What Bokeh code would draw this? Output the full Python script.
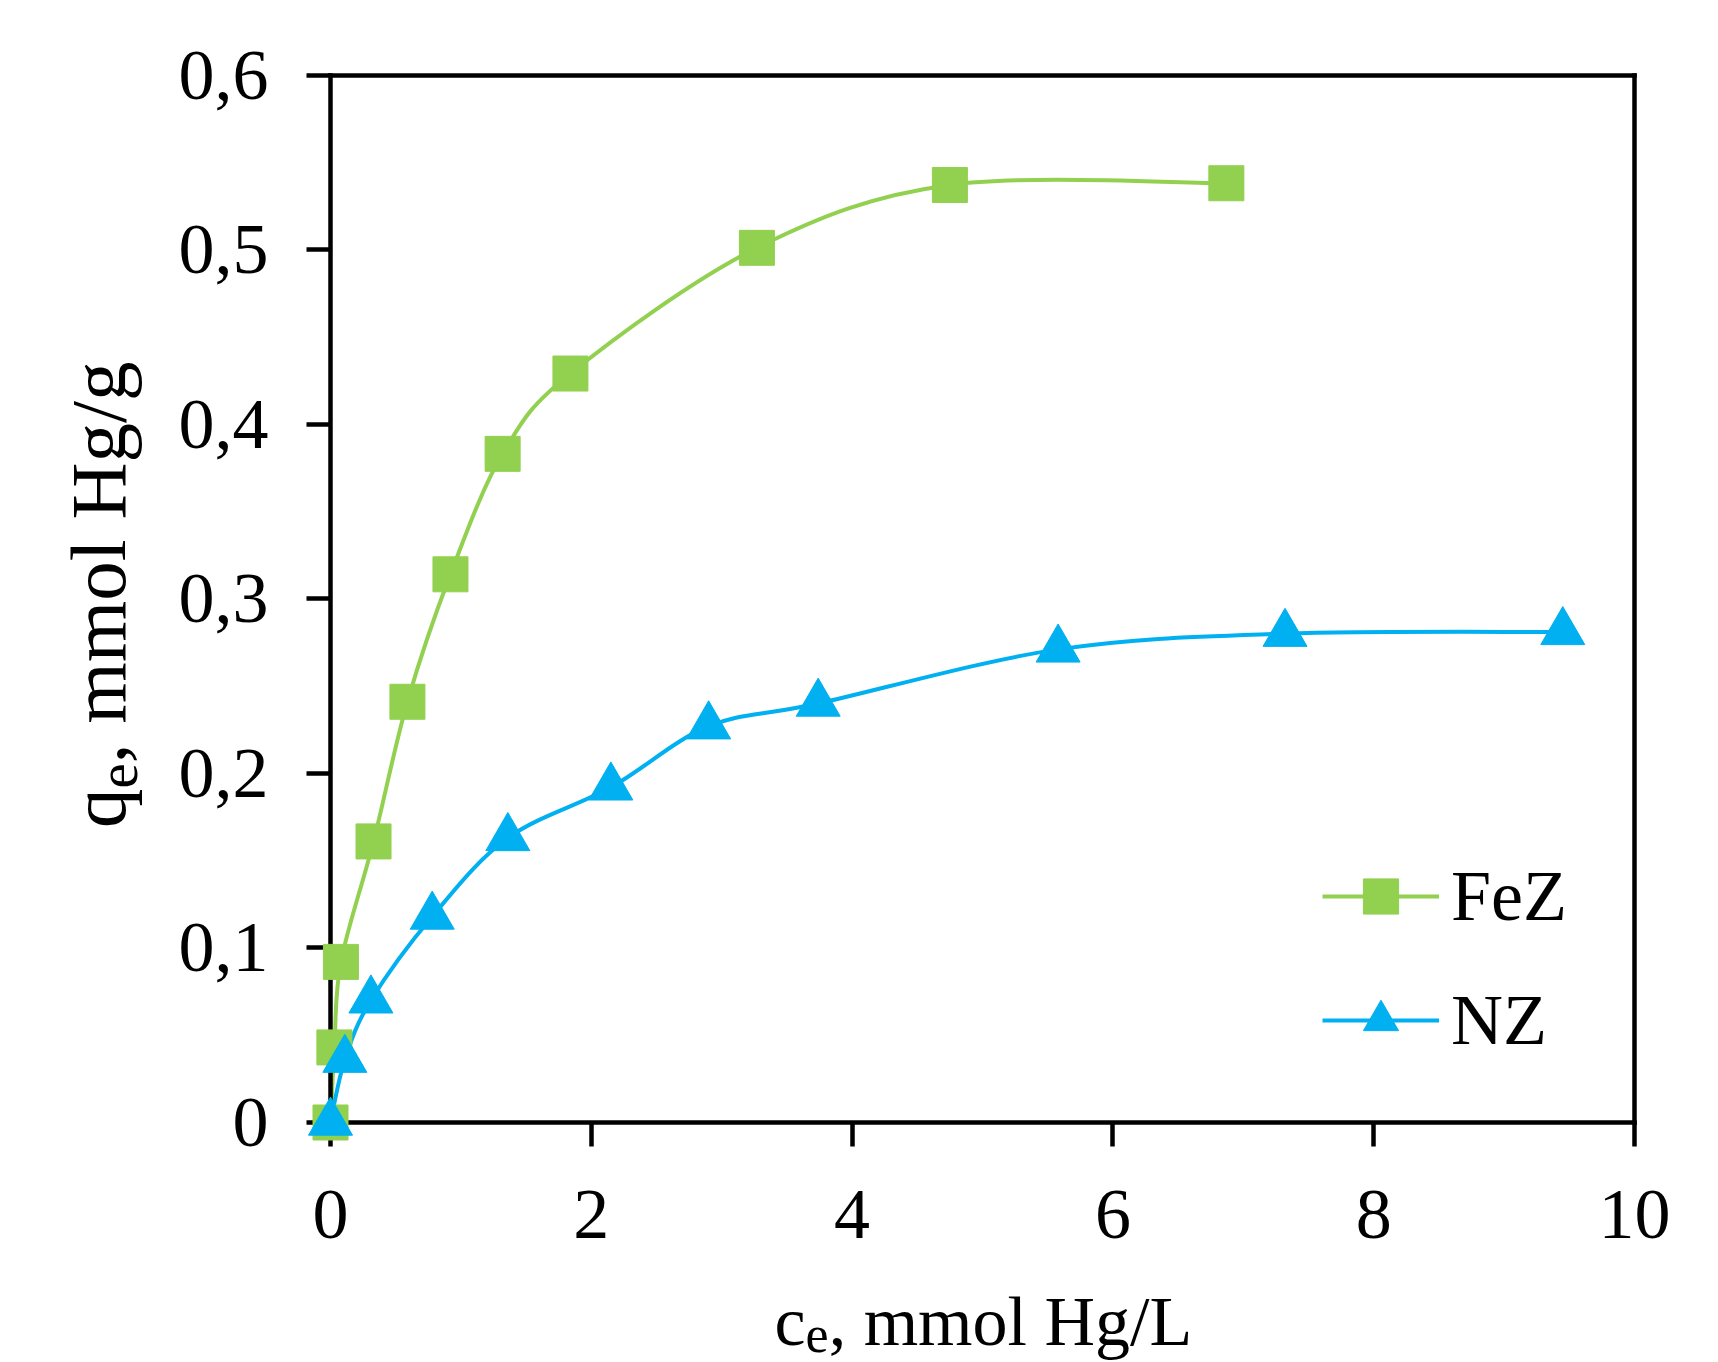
import math
from bokeh.plotting import figure
from bokeh.models import (Range1d, FixedTicker, Label, Legend, LegendItem,
                          ColumnDataSource, LinearAxis)
from bokeh.embed import file_html
from bokeh.resources import INLINE

# ---- data ----
fez_x = [0.0, 0.03, 0.08, 0.33, 0.59, 0.92, 1.32, 1.84, 3.27, 4.75, 6.87]
fez_y = [0.000, 0.043, 0.092, 0.161, 0.241, 0.314, 0.383, 0.429, 0.501, 0.537, 0.538]

nz_x = [0.0, 0.11, 0.31, 0.78, 1.36, 2.15, 2.90, 3.74, 5.58, 7.32, 9.45]
nz_y = [0.000, 0.036, 0.070, 0.118, 0.163, 0.192, 0.227, 0.240, 0.271, 0.280, 0.281]

x_ticks = [0, 2, 4, 6, 8, 10]
x_tick_labels = ["0", "2", "4", "6", "8", "10"]
y_ticks = [0, 0.1, 0.2, 0.3, 0.4, 0.5, 0.6]
y_tick_labels = ["0", "0,1", "0,2", "0,3", "0,4", "0,5", "0,6"]
x_lim = (0, 10)
y_lim = (0, 0.6)

GREEN = "#92D050"
BLUE = "#00B0F0"
FONT = "Liberation Serif"

# ---- layout (pixels) ----
W, H = 1718, 1362
FL, FR, FT, FB = 330.0, 1634.0, 74.5, 1122.0   # axis box inside the canvas
xppu = (FR - FL) / (x_lim[1] - x_lim[0])
yppu = (FB - FT) / (y_lim[1] - y_lim[0])
x_range = Range1d(x_lim[0] - FL / xppu, x_lim[1] + (W - FR) / xppu)
y_range = Range1d(y_lim[0] - (H - FB) / yppu, y_lim[1] + FT / yppu)


def smooth_segments(xs, ys, t=1.0 / 6.0):
    """Control points of a smoothed (Catmull-Rom style) curve through the points."""
    n = len(xs)
    out = dict(x0=[], y0=[], x1=[], y1=[], cx0=[], cy0=[], cx1=[], cy1=[])
    for i in range(n - 1):
        a = max(i - 1, 0)
        d = min(i + 2, n - 1)
        out["x0"].append(xs[i]); out["y0"].append(ys[i])
        out["x1"].append(xs[i + 1]); out["y1"].append(ys[i + 1])
        out["cx0"].append(xs[i] + (xs[i + 1] - xs[a]) * t)
        out["cy0"].append(ys[i] + (ys[i + 1] - ys[a]) * t)
        out["cx1"].append(xs[i + 1] - (xs[d] - xs[i]) * t)
        out["cy1"].append(ys[i + 1] - (ys[d] - ys[i]) * t)
    return out


p = figure(width=W, height=H, output_backend="svg", toolbar_location=None,
           x_range=x_range, y_range=y_range, x_axis_type=None, y_axis_type=None,
           min_border=0)
p.background_fill_color = "white"
p.border_fill_color = "white"
p.grid.visible = False
p.outline_line_color = None


def make_axis(loc, bounds, ticks, labels, tick_out=24):
    ax = LinearAxis(fixed_location=loc, bounds=bounds,
                    ticker=FixedTicker(ticks=ticks))
    ax.major_label_overrides = {t: l for t, l in zip(ticks, labels)}
    ax.axis_line_width = 4.5
    ax.axis_line_color = "black"
    ax.axis_line_cap = "square"
    ax.major_tick_line_width = 4.5
    ax.major_tick_line_color = "black"
    ax.major_tick_out = tick_out
    ax.major_tick_in = 0
    ax.minor_tick_out = 0
    ax.minor_tick_in = 0
    ax.major_label_text_font = FONT
    ax.major_label_text_font_size = "72px"
    ax.major_label_text_color = "black"
    return ax


xaxis = make_axis(y_lim[0], x_lim, x_ticks, x_tick_labels)
xaxis.major_label_standoff = 44
yaxis = make_axis(x_lim[0], y_lim, y_ticks, y_tick_labels)
yaxis.major_label_standoff = 38
top_line = make_axis(y_lim[1], x_lim, [], [], tick_out=0)
right_line = make_axis(x_lim[1], y_lim, [], [], tick_out=0)
p.add_layout(xaxis, "below")
p.add_layout(yaxis, "left")
p.add_layout(top_line, "above")
p.add_layout(right_line, "right")

# smoothed lines
fez_src = ColumnDataSource(smooth_segments(fez_x, fez_y))
nz_src = ColumnDataSource(smooth_segments(nz_x, nz_y))
p.bezier("x0", "y0", "x1", "y1", "cx0", "cy0", "cx1", "cy1", source=fez_src,
         line_color=GREEN, line_width=4)
p.bezier("x0", "y0", "x1", "y1", "cx0", "cy0", "cx1", "cy1", source=nz_src,
         line_color=BLUE, line_width=4)

fez_pts = p.scatter(fez_x, fez_y, marker="square", size=35,
                    fill_color=GREEN, line_color=GREEN, level="overlay")
nz_pts = p.scatter(nz_x, nz_y, marker="triangle", size=44,
                   fill_color=BLUE, line_color=BLUE, level="overlay")

# legend proxies (line style only; a single NaN point draws nothing on the plot)
nan = float("nan")
fez_leg_line = p.line([nan], [nan], line_color=GREEN, line_width=4)
nz_leg_line = p.line([nan], [nan], line_color=BLUE, line_width=4)

legend = Legend(items=[LegendItem(label="FeZ", renderers=[fez_leg_line, fez_pts]),
                       LegendItem(label="NZ", renderers=[nz_leg_line, nz_pts])],
                location=(1322, 298), orientation="vertical",
                glyph_width=117, glyph_height=88, label_height=88,
                spacing=36, padding=0, margin=0, label_standoff=12,
                label_text_font=FONT, label_text_font_size="72px",
                label_text_color="black",
                border_line_color=None, background_fill_alpha=0)
p.add_layout(legend, "center")

# axis titles with subscripts
XF, XS = 70, 52
xl_start = -208
xl_base = -199
xc = (x_lim[0] + x_lim[1]) / 2
p.add_layout(Label(x=xc, y=y_lim[0], x_offset=xl_start, y_offset=xl_base, text="c",
                   text_font=FONT, text_font_size=f"{XF}px", text_color="black",
                   text_baseline="alphabetic", text_align="left"))
p.add_layout(Label(x=xc, y=y_lim[0], x_offset=xl_start + 0.444 * XF, y_offset=xl_base - 13,
                   text="e", text_font=FONT, text_font_size=f"{XS}px", text_color="black",
                   text_baseline="alphabetic", text_align="left"))
p.add_layout(Label(x=xc, y=y_lim[0], x_offset=xl_start + 0.444 * XF + 0.444 * XS,
                   y_offset=xl_base, text=", mmol Hg/L",
                   text_font=FONT, text_font_size=f"{XF}px", text_color="black",
                   text_baseline="alphabetic", text_align="left"))

YF, YS = 79, 57
yc = (y_lim[0] + y_lim[1]) / 2
yl_total = 0.5 * YF + 0.444 * YS + 5.084 * YF
yl_start = -yl_total / 2 + 4   # text starts at bottom
yl_base = -232
ang = math.pi / 2
p.add_layout(Label(x=x_lim[0], y=yc, x_offset=yl_base, y_offset=yl_start, text="q", angle=ang,
                   text_font=FONT, text_font_size=f"{YF}px", text_color="black",
                   text_baseline="alphabetic", text_align="left"))
p.add_layout(Label(x=x_lim[0], y=yc, x_offset=yl_base + 19, y_offset=yl_start + 0.5 * YF,
                   text="e", angle=ang, text_font=FONT, text_font_size=f"{YS}px",
                   text_color="black", text_baseline="alphabetic", text_align="left"))
p.add_layout(Label(x=x_lim[0], y=yc, x_offset=yl_base,
                   y_offset=yl_start + 0.5 * YF + 0.444 * YS,
                   text=", mmol Hg/g", angle=ang, text_color="black",
                   text_font=FONT, text_font_size=f"{YF}px", text_baseline="alphabetic",
                   text_align="left"))

open("out.html", "w").write(file_html(p, INLINE))
